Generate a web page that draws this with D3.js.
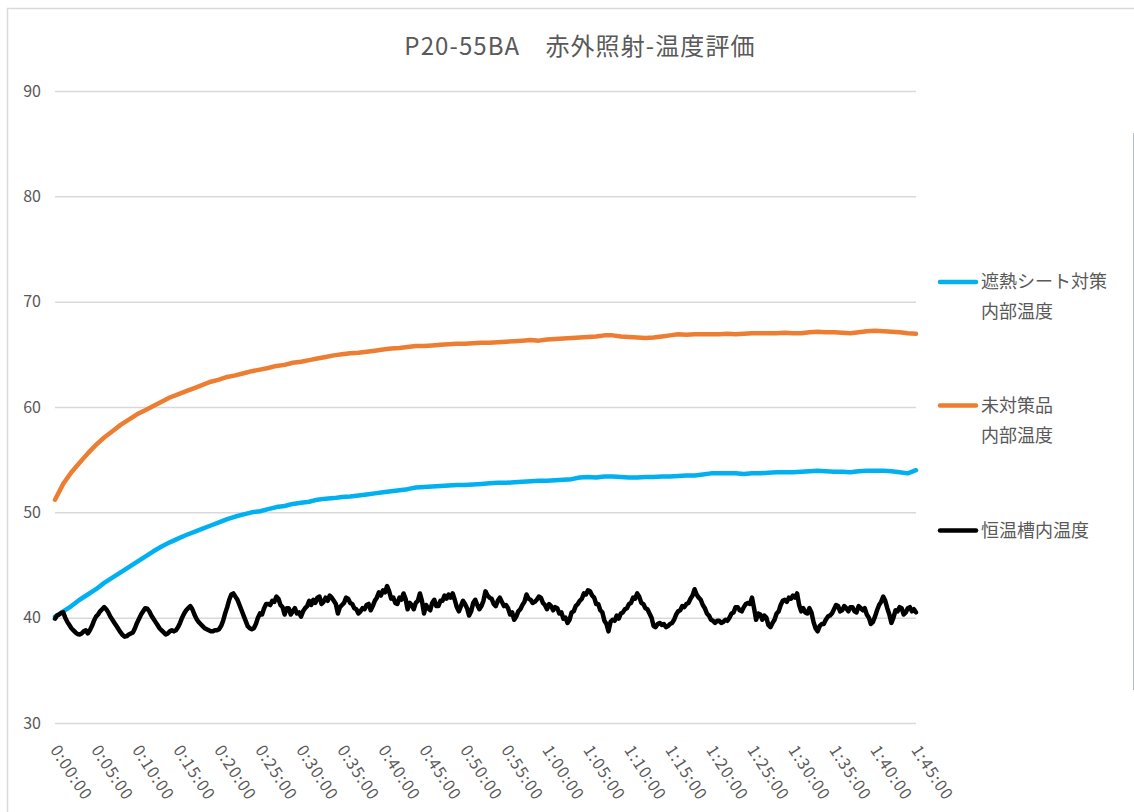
<!DOCTYPE html>
<html lang="ja">
<head>
<meta charset="utf-8">
<title>P20-55BA 赤外照射-温度評価</title>
<script src="https://cdn.jsdelivr.net/npm/d3@7"></script>
<style>
  html, body { margin: 0; padding: 0; background: #ffffff; }
  svg { display: block; font-family: "Noto Sans CJK JP", "Noto Sans", sans-serif; }
</style>
</head>
<body>
<svg id="chart" width="1134" height="812"></svg>
<script>
// Elapsed-time sampling of each logged series (minutes between samples)
const panelStepMin = 1;
const ambientStepMin = 0.25;

// 遮熱シート対策 内部温度 (°C), one sample per minute
const shieldedTemps = [
  40.1, 40.6, 41.1, 41.7, 42.2, 42.7, 43.3, 43.8, 44.3, 44.8,
  45.3, 45.8, 46.3, 46.75, 47.15, 47.5, 47.85, 48.15, 48.45, 48.75,
  49.05, 49.35, 49.6, 49.8, 50.0, 50.1, 50.3, 50.5, 50.6, 50.8,
  50.9, 51.0, 51.2, 51.3, 51.35, 51.45, 51.5, 51.6, 51.7, 51.8,
  51.9, 52.0, 52.1, 52.2, 52.35, 52.4, 52.45, 52.5, 52.55, 52.6,
  52.6, 52.65, 52.7, 52.75, 52.8, 52.8, 52.85, 52.9, 52.95, 53.0,
  53.0, 53.05, 53.1, 53.15, 53.3, 53.35, 53.3, 53.4, 53.4, 53.35,
  53.3, 53.3, 53.35, 53.35, 53.4, 53.4, 53.45, 53.5, 53.5, 53.6,
  53.7, 53.7, 53.7, 53.7, 53.65, 53.7, 53.7, 53.75, 53.8, 53.8,
  53.8, 53.85, 53.9, 53.95, 53.9, 53.85, 53.85, 53.8, 53.9, 53.95,
  53.95, 53.95, 53.9, 53.8, 53.7, 54.0
];

// 未対策品 内部温度 (°C), one sample per minute
const untreatedTemps = [
  51.2, 52.7, 53.8, 54.7, 55.6, 56.4, 57.1, 57.7, 58.3, 58.8,
  59.3, 59.7, 60.1, 60.5, 60.9, 61.2, 61.5, 61.8, 62.1, 62.4,
  62.6, 62.85, 63.0, 63.2, 63.4, 63.55, 63.7, 63.9, 64.0, 64.2,
  64.3, 64.45, 64.6, 64.75, 64.9, 65.0, 65.1, 65.15, 65.25, 65.35,
  65.45, 65.55, 65.6, 65.7, 65.8, 65.8, 65.85, 65.9, 65.95, 66.0,
  66.0, 66.05, 66.1, 66.1, 66.15, 66.2, 66.25, 66.3, 66.35, 66.3,
  66.4, 66.45, 66.5, 66.55, 66.6, 66.65, 66.7, 66.8, 66.8, 66.7,
  66.65, 66.6, 66.55, 66.6, 66.7, 66.8, 66.9, 66.85, 66.9, 66.9,
  66.9, 66.9, 66.95, 66.9, 66.95, 67.0, 67.0, 67.0, 67.0, 67.05,
  67.0, 67.0, 67.1, 67.15, 67.1, 67.1, 67.05, 67.0, 67.1, 67.2,
  67.25, 67.2, 67.15, 67.1, 67.0, 66.95
];

// 恒温槽内温度 (°C), one sample every 15 s
const chamberTemps = [
  39.9, 40.2, 40.3, 40.45, 40.5, 40.0, 39.6, 39.3, 39.0, 38.8,
  38.6, 38.45, 38.4, 38.5, 38.7, 38.8, 38.5, 38.8, 39.2, 39.7,
  40.1, 40.3, 40.6, 40.8, 41.0, 40.8, 40.5, 40.1, 39.8, 39.5,
  39.2, 38.9, 38.6, 38.35, 38.2, 38.25, 38.4, 38.5, 38.6, 39.0,
  39.5, 39.9, 40.3, 40.6, 40.9, 40.85, 40.6, 40.2, 39.9, 39.6,
  39.3, 39.0, 38.8, 38.6, 38.4, 38.5, 38.7, 38.8, 38.7, 38.8,
  39.1, 39.5, 40.0, 40.4, 40.7, 40.9, 41.1, 40.8, 40.3, 39.9,
  39.6, 39.4, 39.2, 39.0, 38.9, 38.8, 38.7, 38.7, 38.8, 38.8,
  38.9, 39.2, 39.7, 40.4, 41.0, 41.7, 42.2, 42.3, 42.0, 41.7,
  41.2, 40.7, 40.2, 39.7, 39.2, 39.0, 38.9, 39.0, 39.4, 40.0,
  40.4, 40.3, 40.9, 41.3, 41.3, 41.2, 41.6, 41.5, 42.0, 41.8,
  41.2, 41.0, 40.3, 40.9, 40.9, 40.3, 40.6, 40.9, 40.4, 40.5,
  40.1, 40.6, 40.9, 41.1, 41.6, 41.2, 41.7, 41.4, 41.9, 42.0,
  41.3, 41.5, 41.9, 41.6, 42.1, 41.9, 41.6, 41.3, 40.4, 41.0,
  41.2, 41.4, 41.9, 41.8, 41.4, 41.3, 40.9, 40.8, 40.4, 40.6,
  40.9, 40.8, 41.2, 41.3, 40.7, 41.1, 41.6, 41.9, 42.4, 42.1,
  42.6, 42.4, 43.0, 42.5, 41.8, 41.9, 41.4, 41.3, 41.9, 41.7,
  42.3, 41.8, 40.8, 41.4, 41.2, 40.8, 41.4, 41.6, 42.3, 41.6,
  40.4, 41.2, 40.9, 40.7, 41.4, 41.7, 41.1, 41.1, 41.6, 41.6,
  42.1, 41.8, 42.2, 41.9, 42.3, 41.7, 41.0, 40.6, 41.1, 41.6,
  41.3, 40.9, 40.2, 40.6, 41.4, 41.7, 41.2, 40.8, 41.1, 41.6,
  42.5, 42.1, 41.9, 41.8, 41.3, 41.1, 41.6, 41.9, 41.5, 41.1,
  41.2, 40.9, 40.3, 40.5, 39.8, 40.1, 40.6, 40.8, 41.2, 41.5,
  42.2, 41.8, 41.7, 41.4, 41.5, 41.7, 42.0, 41.9, 41.4, 41.2,
  40.8, 41.3, 41.1, 40.7, 41.0, 40.9, 40.4, 40.5, 39.9, 40.0,
  39.5, 39.8, 40.5, 40.6, 41.1, 41.3, 41.6, 41.8, 42.3, 42.2,
  42.6, 42.5, 42.1, 41.9, 41.3, 41.3, 40.7, 40.5, 39.7, 39.4,
  38.7, 39.6, 39.8, 39.7, 40.2, 39.9, 40.4, 40.5, 40.8, 40.9,
  41.3, 41.4, 41.9, 41.8, 42.3, 42.0, 41.4, 41.3, 40.9, 40.8,
  40.4, 40.0, 39.2, 39.1, 39.4, 39.5, 39.3, 39.4, 39.1, 39.2,
  39.4, 39.5, 39.8, 40.3, 40.6, 40.7, 41.1, 41.0, 41.3, 41.4,
  41.8, 42.1, 42.7, 42.2, 41.9, 41.7, 41.2, 40.9, 40.4, 40.2,
  39.8, 39.7, 39.5, 39.7, 39.7, 39.5, 39.6, 39.8, 39.7, 40.0,
  40.4, 40.5, 41.0, 41.0, 40.7, 40.6, 41.0, 41.3, 41.4, 41.3,
  41.9, 40.9, 39.8, 40.4, 40.3, 39.8, 40.2, 40.0, 39.3, 39.1,
  39.5, 39.8, 40.4, 40.6, 41.2, 41.6, 41.7, 41.5, 41.9, 41.8,
  42.1, 41.9, 42.3, 41.2, 40.6, 40.9, 40.5, 40.4, 40.9, 40.5,
  39.6, 39.0, 38.7, 39.2, 39.4, 39.4, 39.8, 40.1, 40.2, 40.4,
  40.8, 41.2, 41.1, 40.6, 40.7, 41.1, 40.9, 40.6, 41.0, 41.0,
  40.6, 40.5, 41.1, 40.9, 40.7, 40.9, 40.3, 40.0, 39.4, 39.6,
  40.1, 40.7, 41.2, 41.5, 42.0, 41.6, 40.9, 40.3, 39.5, 40.0,
  40.7, 40.6, 41.0, 40.9, 40.3, 40.5, 40.9, 41.0, 40.6, 40.8,
  40.5
];

// Axis ticks
const timeTickMinutes = [0, 5, 10, 15, 20, 25, 30, 35, 40, 45, 50, 55, 60, 65, 70, 75, 80, 85, 90, 95, 100, 105];
const timeTickLabels = [
  "0:00:00", "0:05:00", "0:10:00", "0:15:00", "0:20:00", "0:25:00", "0:30:00", "0:35:00",
  "0:40:00", "0:45:00", "0:50:00", "0:55:00", "1:00:00", "1:05:00", "1:10:00", "1:15:00",
  "1:20:00", "1:25:00", "1:30:00", "1:35:00", "1:40:00", "1:45:00"
];
const tempTicks = [30, 40, 50, 60, 70, 80, 90];

// Series and their legend text
const seriesNames = [["遮熱シート対策", "内部温度"], ["未対策品", "内部温度"], ["恒温槽内温度"]];
const seriesColors = ["#00B0F0", "#ED7D31", "#000000"];
const seriesData = [shieldedTemps, untreatedTemps, chamberTemps];
const seriesSteps = [panelStepMin, panelStepMin, ambientStepMin];

const chartTitle = "P20-55BA\u3000赤外照射-温度評価";

// ---------------------------------------------------------------------------
const svg = d3.select("#chart");
const plot = { left: 55, right: 916, top: 91, bottom: 723 };

const x = d3.scaleLinear().domain([0, 105]).range([plot.left, plot.right]);
const y = d3.scaleLinear().domain([30, 90]).range([plot.bottom, plot.top]);

// chart frame
svg.append("rect").attr("width", 1134).attr("height", 812).attr("fill", "#ffffff");
svg.append("path")
  .attr("d", "M7.5,812 V8.5 H1134")
  .attr("fill", "none").attr("stroke", "#d9d9d9").attr("stroke-width", 1.5);
svg.append("line")
  .attr("x1", 1133.5).attr("x2", 1133.5).attr("y1", 133).attr("y2", 690)
  .attr("stroke", "#b4bcc6").attr("stroke-width", 1);

// title
svg.append("text")
  .attr("x", 580).attr("y", 55)
  .attr("text-anchor", "middle")
  .attr("fill", "#595959")
  .attr("font-size", 24)
  .style("letter-spacing", "1.1px")
  .text(chartTitle);

// value axis with gridlines
const yAxis = d3.axisLeft(y)
  .tickValues(tempTicks)
  .tickSize(-(plot.right - plot.left))
  .tickPadding(14)
  .tickFormat(d3.format("d"));
const yG = svg.append("g").attr("transform", `translate(${plot.left},0)`).call(yAxis);
yG.select(".domain").remove();
yG.selectAll(".tick line").attr("stroke", "#d9d9d9").attr("stroke-width", 1.5);
yG.selectAll(".tick text")
  .attr("fill", "#595959")
  .attr("font-size", 16)
  .attr("font-family", "'Noto Sans CJK JP', sans-serif");

// time axis with slanted labels
const xAxis = d3.axisBottom(x)
  .tickValues(timeTickMinutes)
  .tickSize(0)
  .tickPadding(0)
  .tickFormat((d, i) => timeTickLabels[i]);
const xG = svg.append("g").attr("transform", `translate(0,${plot.bottom})`).call(xAxis);
xG.select(".domain").remove();
xG.selectAll(".tick text")
  .attr("fill", "#595959")
  .attr("font-size", 16)
  .attr("font-family", "'Noto Sans CJK JP', sans-serif")
  .attr("text-anchor", "start")
  .attr("x", 0).attr("y", 0).attr("dy", "0.35em")
  .attr("transform", "translate(-1,24) rotate(57)")
  .style("letter-spacing", "1.2px");

// temperature traces
const lineGen = step => d3.line()
  .x((d, i) => x(i * step))
  .y(d => y(d));

svg.append("g")
  .selectAll("path")
  .data(seriesData)
  .join("path")
  .attr("d", (d, i) => lineGen(seriesSteps[i])(d))
  .attr("fill", "none")
  .attr("stroke", (d, i) => seriesColors[i])
  .attr("stroke-width", 4.5)
  .attr("stroke-linejoin", "round")
  .attr("stroke-linecap", "round");

// legend
const legendRows = [282, 405.5, 530.5];
const legend = svg.append("g");
seriesNames.forEach((lines, i) => {
  const g = legend.append("g").attr("transform", `translate(938,${legendRows[i]})`);
  g.append("line")
    .attr("x1", 2).attr("x2", 38).attr("y1", 0).attr("y2", 0)
    .attr("stroke", seriesColors[i]).attr("stroke-width", 4.5)
    .attr("stroke-linecap", "round");
  lines.forEach((t, j) => {
    g.append("text")
      .attr("x", 43).attr("y", j * 30).attr("dy", "0.36em")
      .attr("fill", "#595959")
      .attr("font-size", 18)
      .text(t);
  });
});
</script>
</body>
</html>
